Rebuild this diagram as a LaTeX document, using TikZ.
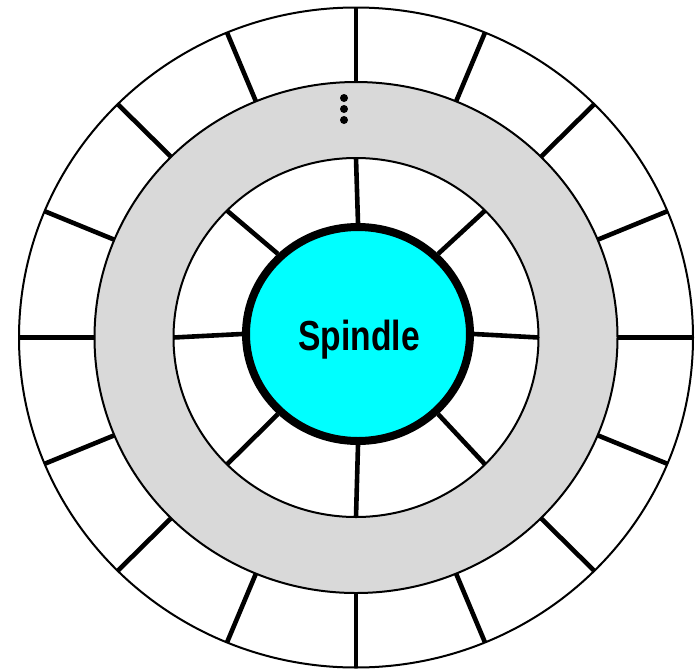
\documentclass[tikz,border=0pt]{standalone}
\usepackage{fontspec}
\setmainfont{Liberation Sans}
\usetikzlibrary{shapes.geometric}
\definecolor{spindleFill}{RGB}{0,255,255}
\definecolor{ringFill}{RGB}{217,217,217}
\tikzset{
    rim/.style={draw=black,line width=1pt},
    spoke/.style={draw=black,line width=2.3pt},
    hub/.style={ellipse,draw=black,line width=4pt,fill=spindleFill,
        minimum width=112pt,minimum height=107pt,inner sep=0pt},
    hubtext/.style={font=\fontsize{21pt}{25pt}\selectfont\bfseries,anchor=base,inner sep=0pt},
    dot/.style={circle,fill=black,inner sep=0pt,minimum size=4pt}
}

\begin{document}
\begin{tikzpicture}[x=0.5pt,y=-0.5pt]
    \useasboundingbox (0,0) rectangle (697,671);
    \coordinate (c) at (356,337.5);
    % rings
    \draw[rim,fill=white]    (c) ellipse [x radius=168.5pt,y radius=165pt];
    \draw[rim,fill=ringFill] (c) ellipse [x radius=130.75pt,y radius=127.75pt];
    \draw[rim,fill=white]    (c) ellipse [x radius=91.25pt,y radius=89.75pt];
    % outer spokes
    \foreach \a in {0,22.5,...,337.5}
        \draw[spoke] ([shift={(c)}]\a:130.75pt and 127.75pt) -- ([shift={(c)}]\a:168.5pt and 165pt);
    % hub
    \node[hub] (spindle) at (358,334) {};
    \node[hubtext] (name) at (359,350) {\scalebox{0.8}[1]{Spindle}};
    % inner spokes
    \foreach \a in {0,45,...,315}
        \draw[spoke] (spindle.\a) -- ([shift={(c)}]\a:91.25pt and 89.75pt);
    % more slots
    \foreach \y [count=\i] in {98,109,120}
        \node[dot] (dot\i) at (344,\y) {};
\end{tikzpicture}
\end{document}
